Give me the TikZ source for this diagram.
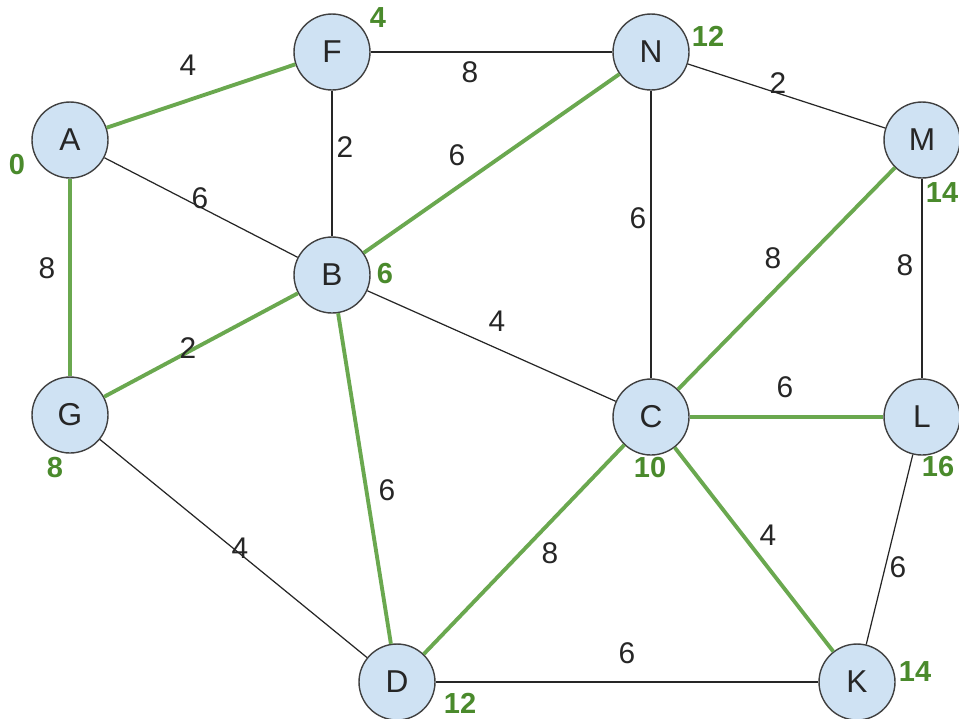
\documentclass[tikz,border=0pt]{standalone}
\usepackage{fontspec}
\setmainfont{Liberation Sans}
\usepackage{tikz}
\definecolor{nodeblue}{HTML}{CFE2F3}
\definecolor{treegreen}{HTML}{6AA84F}
\definecolor{distgreen}{HTML}{4A8A2C}
\tikzstyle{vertex} = [circle, draw=black!75, fill=nodeblue, line width=0.8pt, minimum size=1.52cm, inner sep=0pt, font=\fontsize{18}{20}\selectfont, text=black!85]
\tikzstyle{arista} = [draw=black!85, line width=0.7pt]
\tikzstyle{arbol} = [draw=treegreen, line width=2.2pt]
\tikzstyle{peso} = [font=\fontsize{17}{19}\selectfont, text=black!85, inner sep=1pt]
\tikzstyle{dist} = [font=\fontsize{16.5}{18}\selectfont\bfseries, text=distgreen, inner sep=1pt]

\begin{document}
\begin{tikzpicture}[x=0.02cm, y=-0.02cm]
	\useasboundingbox (0,0) rectangle (959,718);
	% vertices
	\node[vertex] (A) at (70,140) {A};
	\node[vertex] (F) at (332,52) {F};
	\node[vertex] (N) at (651,52) {N};
	\node[vertex] (M) at (922,140) {M};
	\node[vertex] (B) at (332,275) {B};
	\node[vertex] (G) at (70,415) {G};
	\node[vertex] (C) at (651,417) {C};
	\node[vertex] (L) at (922,417) {L};
	\node[vertex] (D) at (397,682) {D};
	\node[vertex] (K) at (857,682) {K};
	% aristas
	\foreach \u/\v in {F/N, N/M, A/B, F/B, N/C, M/L, B/C, G/D, L/K, D/K}
		\draw[arista] (\u) -- (\v);
	\foreach \u/\v in {A/F, A/G, B/N, G/B, B/D, C/M, C/L, D/C, C/K}
		\draw[arbol] (\u) -- (\v);
	% pesos
	\foreach \n/\x/\y/\t in {af/188/65/4, fn/470/72/8, nm/778/83/2, ab/200/198/6,
		fb/345/147/2, bn/457/155/6, nc/638/218/6, cm/773/258/8, ml/905/265/8,
		ag/47/268/8, gb/188/348/2, bc/497/321/4, cl/785/387/6, bd/387/490/6,
		gd/240/548/4, dc/550/553/8, ck/768/535/4, lk/898/567/6, dk/627/653/6}
		\node[peso] (p\n) at (\x,\y) {\t};
	% distancias
	\foreach \n/\x/\y/\t in {A/17/165/0, F/378/18/4, N/708/36/12, M/942/193/14,
		B/385/274/6, G/55/468/8, C/650/468/10, L/938/467/16, D/460/703/12, K/915/672/14}
		\node[dist] (d\n) at (\x,\y) {\t};
\end{tikzpicture}
\end{document}
